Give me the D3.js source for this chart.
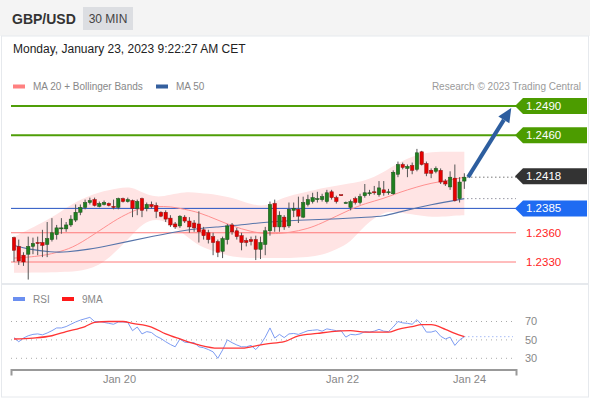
<!DOCTYPE html>
<html>
<head>
<meta charset="utf-8">
<script src="https://cdn.jsdelivr.net/npm/d3@7"></script>
<style>
  body { margin: 0; background: #fff; }
  svg { font-family: Arial, "Liberation Sans", Helvetica, sans-serif; display: block; }
</style>
</head>
<body>
<div id="chart"></div>
<script>
// ---- data ----
const title = 'GBP/USD';
const period = '30 MIN';
const stamp = 'Monday, January 23, 2023 9:22:27 AM CET';

const openP = [1.2355,1.2346,1.2337,1.2338,1.2346,1.2350,1.2350,1.2348,1.2353,1.2358,
  1.2364,1.2364,1.2368,1.2373,1.2381,1.2386,1.2391,1.2394,1.2387,1.2389,
  1.2390,1.2387,1.2386,1.2395,1.2392,1.2393,1.2385,1.2395,1.2385,1.2389,
  1.2388,1.2381,1.2381,1.2375,1.2369,1.2367,1.2376,1.2372,1.2370,1.2369,
  1.2363,1.2360,1.2356,1.2351,1.2341,1.2353,1.2368,1.2362,1.2357,1.2352,
  1.2353,1.2353,1.2343,1.2348,1.2362,1.2390,1.2366,1.2376,1.2367,1.2383,
  1.2384,1.2376,1.2389,1.2392,1.2394,1.2394,1.2392,1.2402,1.2396,1.2399,
  1.2391,1.2386,1.2395,1.2391,1.2398,1.2400,1.2402,1.2399,1.2404,1.2401,
  1.2400,1.2420,1.2430,1.2426,1.2429,1.2425,1.2443,1.2431,1.2424,1.2423,
  1.2424,1.2413,1.2407,1.2416,1.2395,1.2413];
const highP = [1.2356,1.2353,1.2340,1.2356,1.2355,1.2356,1.2363,1.2371,1.2375,1.2368,
  1.2375,1.2371,1.2378,1.2389,1.2389,1.2394,1.2396,1.2396,1.2392,1.2393,
  1.2391,1.2394,1.2396,1.2396,1.2396,1.2394,1.2394,1.2396,1.2391,1.2392,
  1.2391,1.2382,1.2383,1.2378,1.2371,1.2378,1.2378,1.2376,1.2373,1.2382,
  1.2366,1.2363,1.2360,1.2353,1.2356,1.2369,1.2370,1.2365,1.2360,1.2355,
  1.2356,1.2357,1.2356,1.2366,1.2392,1.2394,1.2382,1.2378,1.2391,1.2391,
  1.2397,1.2397,1.2399,1.2401,1.2402,1.2400,1.2404,1.2404,1.2398,1.2399,
  1.2392,1.2394,1.2397,1.2400,1.2410,1.2404,1.2408,1.2413,1.2413,1.2405,
  1.2424,1.2433,1.2432,1.2430,1.2432,1.2446,1.2444,1.2433,1.2426,1.2428,
  1.2426,1.2415,1.2423,1.2430,1.2417,1.2421];
const lowP = [1.2330,1.2327,1.2326,1.2312,1.2338,1.2337,1.2335,1.2335,1.2351,1.2353,
  1.2359,1.2361,1.2366,1.2371,1.2378,1.2384,1.2389,1.2387,1.2386,1.2388,
  1.2387,1.2384,1.2384,1.2391,1.2391,1.2376,1.2378,1.2376,1.2382,1.2385,
  1.2375,1.2376,1.2371,1.2366,1.2364,1.2365,1.2370,1.2360,1.2361,1.2350,
  1.2353,1.2349,1.2337,1.2335,1.2334,1.2348,1.2358,1.2353,1.2342,1.2346,
  1.2347,1.2332,1.2333,1.2337,1.2357,1.2361,1.2361,1.2363,1.2365,1.2376,
  1.2370,1.2375,1.2387,1.2390,1.2391,1.2392,1.2390,1.2394,1.2390,1.2398,
  1.2390,1.2383,1.2389,1.2389,1.2396,1.2398,1.2399,1.2397,1.2398,1.2399,
  1.2399,1.2417,1.2425,1.2417,1.2420,1.2423,1.2429,1.2418,1.2416,1.2421,
  1.2410,1.2408,1.2404,1.2392,1.2391,1.2405];
const closeP = [1.2342,1.2331,1.2330,1.2346,1.2349,1.2349,1.2347,1.2354,1.2360,1.2365,
  1.2365,1.2368,1.2374,1.2381,1.2386,1.2391,1.2393,1.2388,1.2390,1.2391,
  1.2388,1.2386,1.2395,1.2392,1.2394,1.2385,1.2392,1.2383,1.2389,1.2387,
  1.2382,1.2377,1.2374,1.2368,1.2366,1.2377,1.2372,1.2366,1.2365,1.2361,
  1.2357,1.2353,1.2350,1.2340,1.2354,1.2367,1.2361,1.2356,1.2350,1.2350,
  1.2351,1.2343,1.2350,1.2362,1.2389,1.2366,1.2378,1.2366,1.2384,1.2385,
  1.2377,1.2391,1.2394,1.2396,1.2395,1.2397,1.2401,1.2396,1.2392,1.2398,
  1.2391,1.2392,1.2391,1.2397,1.2401,1.2401,1.2401,1.2406,1.2401,1.2402,
  1.2422,1.2430,1.2427,1.2428,1.2424,1.2442,1.2430,1.2421,1.2421,1.2426,
  1.2412,1.2410,1.2417,1.2393,1.2412,1.2417];

// Bollinger bands + MA20 (sampled at candle indices)
const bbIdx   = [0,6,10,13,18,22,25,27,30,33,36,39,43,46,50,53,55,58,62,65,68,71,74,78,81,85,88,92,95];
const bbUpper = [1.2356,1.2370,1.2382,1.2392,1.2402,1.2406,1.2407,1.2401,1.2396,1.2399,1.2402,1.2401,1.2399,1.2396,1.2389,
  1.2387,1.2392,1.2398,1.2402,1.2406,1.2408,1.2411,1.2413,1.2422,1.2432,1.2440,1.2443,1.2443,1.2443];
const bbLower = [1.2319,1.2319,1.2320,1.2320,1.2325,1.2343,1.2358,1.2369,1.2375,1.2369,1.2358,1.2346,1.2340,1.2335,1.2334,
  1.2334,1.2334,1.2334,1.2335,1.2337,1.2343,1.2350,1.2368,1.2382,1.2381,1.2378,1.2376,1.2377,1.2378];
const ma20    = [1.2334,1.2336,1.2341,1.2346,1.2362,1.2375,1.2382,1.2386,1.2387,1.2387,1.2384,1.2381,1.2373,1.2367,1.2361,
  1.2359,1.2359,1.2360,1.2364,1.2370,1.2377,1.2384,1.2390,1.2395,1.2401,1.2407,1.2411,1.2414,1.2417];

const ma50Idx = [0,3,8,11,16,20,24,29,36,43,48,53,60,67,75,78,81,88,95];
const ma50    = [1.2347,1.2343,1.2340,1.2340,1.2343,1.2347,1.2351,1.2356,1.2363,1.2366,1.2368,1.2371,1.2373,1.2374,1.2376,1.2377,1.2381,1.2389,1.2395];

// key levels
const levels      = [1.2490, 1.2460, 1.2418, 1.2385, 1.2360, 1.2330];
const levelLabels = ['1.2490','1.2460','1.2418','1.2385','1.2360','1.2330'];
const levelKind   = ['res','res','last','pivot','sup','sup'];

// RSI (one value per candle) and its 9MA
const rsi = [52.5,48,52,54.5,56,56.5,55.5,57.5,60,63,63,64.5,67,69.5,71.5,73,74.5,70,70,69,
  68,67,69.5,69.5,69,60,64,56.5,59,58,54,51.5,48,45,42.5,51,47.5,47,47,42.5,
  41.5,39.5,37,30,39,50,47,44.5,42.5,42.5,44,39.5,45,53,63,52,56,52.5,56.5,57,
  56,58,60,60.5,61,59.5,62,61,60,60,53,56,55.5,56.5,59,58.5,59.5,61.5,59.5,59,
  64,70,68.5,68,67,72,66.5,58.5,58.5,60,54,51,53,44,50,53.5];
const rsiMaIdx = [0,4,8,11,15,17,20,23,25,29,32,35,39,43,48,50,53,57,60,64,67,71,74,79,81,84,86,88,91,93,95];
const rsiMa    = [51,52,54.5,59,64.5,69,70,70,68,64,56.5,51,44.5,41,41,42.5,45.5,48,54.5,57,59,60,58.5,58.5,61.5,64.5,66.5,66.5,61.5,57,53.5];
const rsiTicks = [70, 50, 30];

const dateTicks  = [22.15, 69.2, 96];
const dateLabels = ['Jan 20', 'Jan 22', 'Jan 24'];

// ---- layout ----
const W = 590, H = 400;
const svg = d3.select('#chart').append('svg')
    .attr('width', W)
    .attr('height', H);

const x = d3.scaleLinear().domain([-0.633, 105.9]).range([11, 516]);
const y = d3.scaleLinear().domain([1.2330, 1.2490]).range([262, 106]);
const yR = d3.scaleLinear().domain([30, 70]).range([358.3, 321.5]);
const x0 = x.range()[0], x1 = x.range()[1];

// header
svg.append('rect').attr('x', 0).attr('y', 0).attr('width', W).attr('height', 36).attr('fill', '#f4f4f4');
svg.append('text').attr('x', 12).attr('y', 24).attr('font-size', 14).attr('font-weight', 'bold')
    .attr('fill', '#333').text(title);
svg.append('rect').attr('x', 83).attr('y', 7).attr('width', 50).attr('height', 23).attr('fill', '#dcdee2');
svg.append('text').attr('x', 108).attr('y', 23).attr('text-anchor', 'middle').attr('font-size', 12)
    .attr('fill', '#444').text(period);

// frame + panel separator
svg.append('rect').attr('x', 1.5).attr('y', 36).attr('width', 587).attr('height', 361)
    .attr('fill', 'none').attr('stroke', '#e6e9ed');
svg.append('line').attr('x1', 1).attr('x2', 589).attr('y1', 284).attr('y2', 284)
    .attr('stroke', '#e6e9ed').attr('stroke-width', 2);

svg.append('text').attr('x', 13).attr('y', 53).attr('font-size', 12).attr('fill', '#222').text(stamp);

// legend
const leg = svg.append('g').attr('font-size', 10).attr('fill', '#888');
leg.append('rect').attr('x', 13).attr('y', 84.5).attr('width', 12).attr('height', 4).attr('fill', '#ff8080');
leg.append('text').attr('x', 33).attr('y', 90).text('MA 20 + Bollinger Bands');
leg.append('rect').attr('x', 156).attr('y', 84.5).attr('width', 12).attr('height', 4).attr('fill', '#345f9e');
leg.append('text').attr('x', 176).attr('y', 90).text('MA 50');
leg.append('text').attr('x', 581).attr('y', 90).attr('text-anchor', 'end').attr('fill', '#9a9a9a')
    .text('Research \u00a9 2023 Trading Central');

// bands
const band = d3.area()
    .x(i => x(bbIdx[i]))
    .y0(i => y(bbLower[i]))
    .y1(i => y(bbUpper[i]))
    .curve(d3.curveBasis);
svg.append('path').datum(d3.range(bbIdx.length)).attr('d', band).attr('fill', '#ffe4e4');

// key level lines
const lvlColor = {res: '#4f9e08', last: '#333', pivot: '#2452c2', sup: '#ff7a7a'};
levels.forEach((v, i) => {
  const k = levelKind[i];
  if (k === 'last') return;
  svg.append('line').attr('x1', x0).attr('x2', x1).attr('y1', y(v)).attr('y2', y(v))
      .attr('stroke', lvlColor[k]).attr('stroke-width', k === 'res' ? 2 : 1);
});

// MA lines
const ma20Line = d3.line().x(i => x(bbIdx[i])).y(i => y(ma20[i])).curve(d3.curveBasis);
svg.append('path').datum(d3.range(bbIdx.length)).attr('d', ma20Line)
    .attr('fill', 'none').attr('stroke', '#ff9090').attr('stroke-width', 1);
const ma50Line = d3.line().x(i => x(ma50Idx[i])).y(i => y(ma50[i])).curve(d3.curveBasis);
svg.append('path').datum(d3.range(ma50Idx.length)).attr('d', ma50Line)
    .attr('fill', 'none').attr('stroke', '#5674aa').attr('stroke-width', 1.1);

// candles
const bw = 3.4;
const cg = svg.append('g').selectAll('g')
    .data(d3.range(openP.length))
    .join('g');
cg.append('line')
    .attr('x1', i => x(i)).attr('x2', i => x(i))
    .attr('y1', i => y(highP[i])).attr('y2', i => y(lowP[i]))
    .attr('stroke', '#555').attr('stroke-width', 1);
cg.append('rect')
    .attr('x', i => x(i) - bw / 2)
    .attr('width', bw)
    .attr('y', i => y(Math.max(openP[i], closeP[i])))
    .attr('height', i => Math.max(1, Math.abs(y(openP[i]) - y(closeP[i]))))
    .attr('fill', i => closeP[i] >= openP[i] ? '#1f7f1f' : '#e60000')
    .attr('stroke', i => closeP[i] >= openP[i] ? '#1a4f1a' : '#8a1010')
    .attr('stroke-width', 0.5);

// dotted continuations at the right
const last = openP.length - 1;
svg.append('line').attr('x1', x(last) + 3).attr('x2', x1).attr('y1', y(closeP[last])).attr('y2', y(closeP[last]))
    .attr('stroke', '#333').attr('stroke-dasharray', '1,3');
svg.append('line').attr('x1', x(last) + 3).attr('x2', x1).attr('y1', y(ma50[ma50.length - 1])).attr('y2', y(ma50[ma50.length - 1]))
    .attr('stroke', '#667').attr('stroke-dasharray', '1,3');

// arrow toward the first resistance
const a0 = [x(last + 0.8), y(closeP[last])];
const a1 = [x(last + 9.9), y(levels[0] - 0.0002)];
const ang = Math.atan2(a1[1] - a0[1], a1[0] - a0[0]);
const hl = 14, hw = 6.5;
const base = [a1[0] - hl * Math.cos(ang), a1[1] - hl * Math.sin(ang)];
svg.append('line').attr('x1', a0[0]).attr('y1', a0[1]).attr('x2', base[0]).attr('y2', base[1])
    .attr('stroke', '#2d5e9f').attr('stroke-width', 4);
svg.append('path')
    .attr('d', `M${a1[0]},${a1[1]}L${base[0] + hw * Math.sin(ang)},${base[1] - hw * Math.cos(ang)}L${base[0] - hw * Math.sin(ang)},${base[1] + hw * Math.cos(ang)}Z`)
    .attr('fill', '#2d5e9f');

// level labels
const boxFill = {res: '#4c9c00', last: '#333', pivot: '#1f6bf2'};
levels.forEach((v, i) => {
  const k = levelKind[i];
  const yy = y(v);
  if (k === 'sup') {
    svg.append('text').attr('x', 526).attr('y', yy).attr('dy', '0.35em')
        .attr('font-size', 11.5).attr('fill', '#ff2424').text(levelLabels[i]);
    return;
  }
  svg.append('path')
      .attr('d', `M${x1 - 1},${yy}L${x1 + 7},${yy - 8}H587V${yy + 8}H${x1 + 7}Z`)
      .attr('fill', boxFill[k]);
  svg.append('text').attr('x', 526).attr('y', yy).attr('dy', '0.35em')
      .attr('font-size', 11.5).attr('fill', '#fff').text(levelLabels[i]);
});

// ---- RSI panel ----
const rl = svg.append('g').attr('font-size', 10).attr('fill', '#888');
rl.append('rect').attr('x', 13).attr('y', 297).attr('width', 12).attr('height', 4).attr('fill', '#6b8ff0');
rl.append('text').attr('x', 33).attr('y', 303).text('RSI');
rl.append('rect').attr('x', 62).attr('y', 297).attr('width', 12).attr('height', 4).attr('fill', '#ff1a1a');
rl.append('text').attr('x', 82).attr('y', 303).text('9MA');

svg.append('g').selectAll('line').data(rsiTicks).join('line')
    .attr('x1', x0).attr('x2', x1).attr('y1', d => yR(d)).attr('y2', d => yR(d))
    .attr('stroke', '#aaa').attr('stroke-dasharray', '1,4');
svg.append('g').selectAll('text').data(rsiTicks).join('text')
    .attr('x', 525).attr('y', d => yR(d)).attr('dy', '0.35em')
    .attr('font-size', 11).attr('fill', '#888').text(d => d);

svg.append('path').datum(rsi)
    .attr('d', d3.line().x((d, i) => x(i)).y(d => yR(d)))
    .attr('fill', 'none').attr('stroke', '#7d9cf2').attr('stroke-width', 1);
svg.append('line').attr('x1', x(last)).attr('x2', x1 - 3).attr('y1', yR(rsi[last])).attr('y2', yR(rsi[last]))
    .attr('stroke', '#7d9cf2').attr('stroke-dasharray', '1,3');
svg.append('path').datum(d3.range(rsiMaIdx.length))
    .attr('d', d3.line().x(i => x(rsiMaIdx[i])).y(i => yR(rsiMa[i])).curve(d3.curveMonotoneX))
    .attr('fill', 'none').attr('stroke', '#ff3535').attr('stroke-width', 1.3);

// time axis
const ax = svg.append('g').attr('transform', 'translate(0,369.5)')
    .call(d3.axisBottom(x).tickValues(dateTicks).tickFormat((d, i) => dateLabels[i])
      .tickSizeInner(0).tickSizeOuter(6).tickPadding(6));
ax.select('.domain').attr('stroke', '#999').attr('stroke-width', 2);
ax.selectAll('text').attr('font-size', 11).attr('fill', '#888')
    .attr('font-family', 'Arial, "Liberation Sans", sans-serif');
</script>
</body>
</html>
